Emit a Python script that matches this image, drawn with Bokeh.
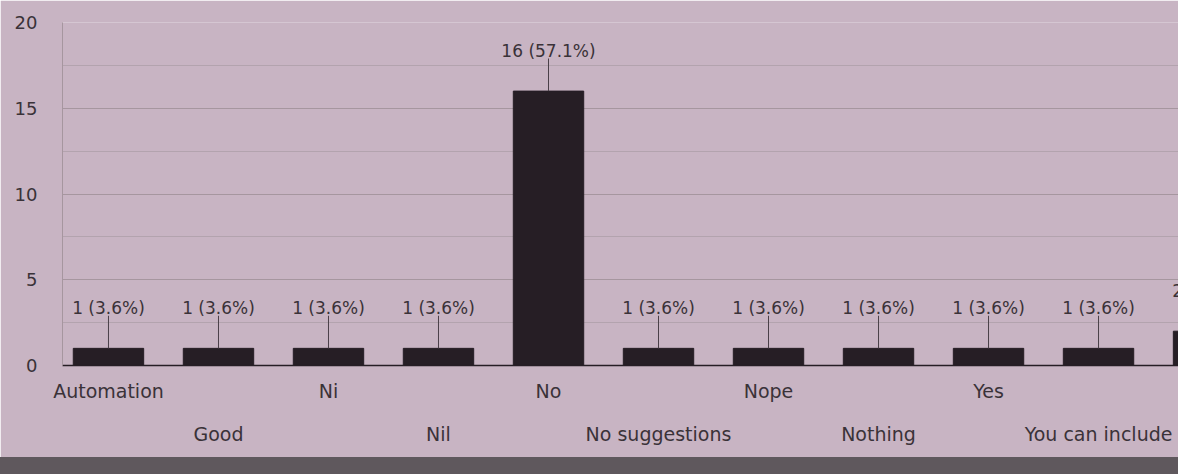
from bokeh.plotting import figure
from bokeh.models import (Range1d, FixedTicker, LinearAxis, SingleIntervalTicker,
                          ColumnDataSource, Div)
from bokeh.layouts import column
from bokeh.core.properties import value
from bokeh.embed import file_html
from bokeh.resources import INLINE

# Responses per answer (28 responses in total)
categories = ["Automation", "Good", "Ni", "Nil", "No", "No suggestions",
              "Nope", "Nothing", "Yes", "You can include", ""]
counts = [1, 1, 1, 1, 16, 1, 1, 1, 1, 1, 2]
responses = 28

PAPER = "#c8b4c3"
INK = "#3a3238"
BAR = "#261e25"
GRID = "#a6969f"
FONT = "DejaVu Sans"

xs = list(range(len(categories)))
labels = [f"{c} ({c / responses * 100:.1f}%)" for c in counts]
src = ColumnDataSource(dict(
    x=xs, count=counts, label=labels,
    lead=[c + 1.9 for c in counts],
))

p = figure(width=1178, height=457,
           x_range=Range1d(-0.418, 9.727), y_range=Range1d(0, 20),
           output_backend="svg", toolbar_location=None,
           min_border_left=62, min_border_right=0,
           min_border_top=22, min_border_bottom=92)
p.background_fill_color = PAPER
p.border_fill_color = PAPER
p.outline_line_color = None

# bars, leader lines and value labels
p.vbar(x="x", top="count", width=0.64, source=src,
       fill_color=BAR, line_color=BAR)
p.segment(x0="x", y0="count", x1="x", y1="lead", source=src,
          line_color="#4a4048", line_width=1)
p.text(x="x", y="lead", text="label", source=src,
       text_align="center", text_baseline="bottom", y_offset=2,
       text_font=value(FONT), text_font_size="17px", text_color=INK)

# y axis
p.yaxis.ticker = SingleIntervalTicker(interval=5, num_minor_ticks=2)
p.yaxis.major_tick_line_color = None
p.yaxis.minor_tick_line_color = None
p.yaxis.axis_line_color = GRID
p.yaxis.major_label_standoff = 19
p.yaxis.major_label_text_font = FONT
p.yaxis.major_label_text_font_size = "18px"
p.yaxis.major_label_text_color = INK

p.xgrid.grid_line_color = None
p.ygrid.grid_line_color = GRID
p.ygrid.minor_grid_line_color = "#b3a3ae"

# category labels, alternating between two rows
row1 = [i for i in xs[:10] if i % 2 == 0]
row2 = [i for i in xs[:10] if i % 2 == 1]

ax1 = p.xaxis[0]
ax1.ticker = FixedTicker(ticks=row1)
ax1.major_label_overrides = {i: categories[i] for i in row1}

ax2 = LinearAxis(ticker=FixedTicker(ticks=row2),
                 major_label_overrides={i: categories[i] for i in row2})
p.add_layout(ax2, "below")

for ax in (ax1, ax2):
    ax.major_tick_line_color = None
    ax.minor_tick_line_color = None
    ax.major_label_text_font = FONT
    ax.major_label_text_font_size = "19px"
    ax.major_label_text_color = INK
ax1.axis_line_color = BAR
ax1.axis_line_width = 1.5
ax1.major_label_standoff = 8
ax2.axis_line_color = None
ax2.major_label_standoff = 12

edge = Div(width=1178, height=17, margin=0,
           styles={"background-color": "#5f585d"})
layout = column(p, edge, spacing=0)

open("out.html", "w").write(file_html(layout, INLINE))
